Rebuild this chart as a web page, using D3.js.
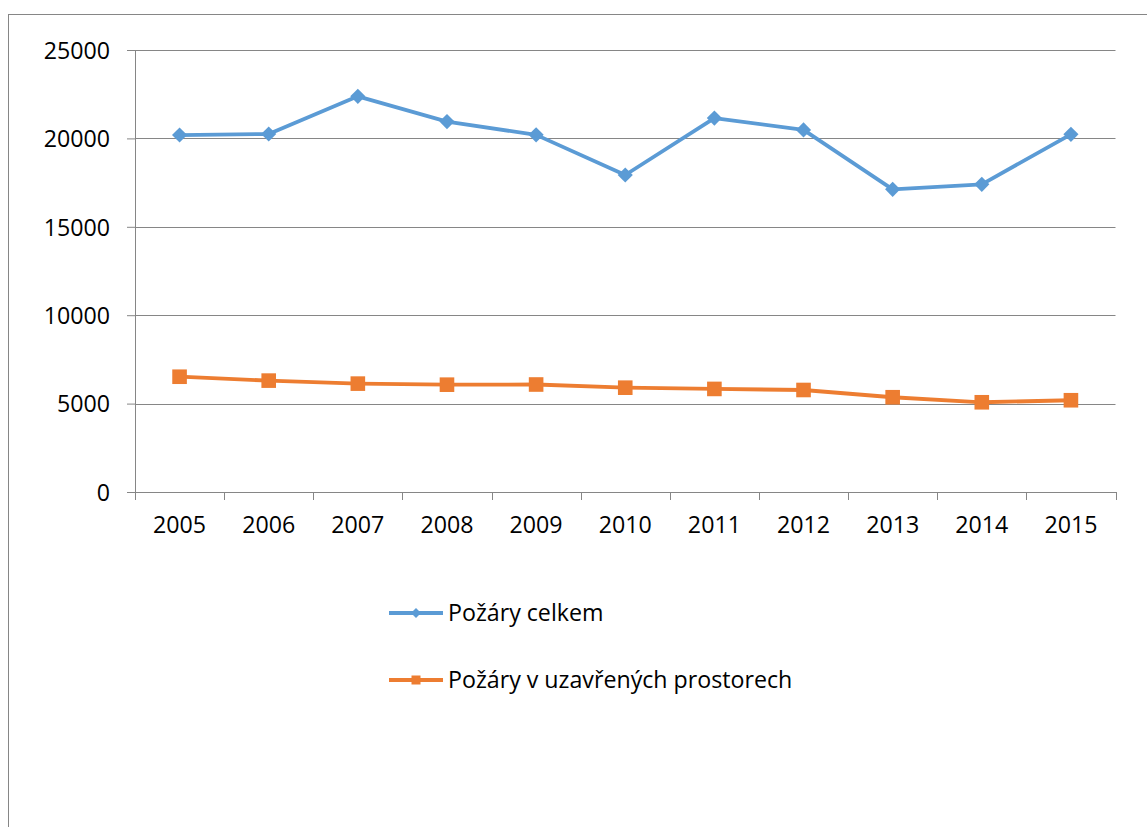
<!DOCTYPE html>
<html>
<head>
<meta charset="utf-8">
<script src="https://cdn.jsdelivr.net/npm/d3@7"></script>
<style>
  body { margin: 0; background: #fff; }
  text { font-family: "Open Sans", sans-serif; fill: #000; }
</style>
</head>
<body>
<svg width="1147" height="827"></svg>
<script>
// data
var years = ["2005", "2006", "2007", "2008", "2009", "2010", "2011", "2012", "2013", "2014", "2015"];
var celkem = [20190, 20250, 22380, 20950, 20200, 17930, 21150, 20480, 17120, 17400, 20230];
var uzavrene = [6520, 6300, 6130, 6070, 6080, 5900, 5830, 5770, 5360, 5075, 5190];
var yTicks = [0, 5000, 10000, 15000, 20000, 25000];
var seriesNames = ["Požáry celkem", "Požáry v uzavřených prostorech"];

var margin = {top: 50, right: 31.5, bottom: 335, left: 135};

var svg = d3.select("svg");
var width = +svg.attr("width") - margin.left - margin.right;
var height = +svg.attr("height") - margin.top - margin.bottom;

var fontSize = "23.2px";

// chart frame, runs off the right and bottom edges
svg.append("rect")
    .attr("x", 8.5).attr("y", 14.5)
    .attr("width", 1300).attr("height", 1000)
    .attr("fill", "none")
    .attr("stroke", "#868686");

var g = svg.append("g")
    .attr("transform", "translate(" + margin.left + "," + margin.top + ")");

var x = d3.scaleBand()
    .domain(years)
    .range([0, width]);

var y = d3.scaleLinear()
    .domain([0, 25000])
    .range([height, 0]);

// gridlines
g.append("g")
    .selectAll("line")
    .data(yTicks.filter(function(d) { return d > 0; }))
  .enter().append("line")
    .attr("x1", 0).attr("x2", width)
    .attr("y1", function(d) { return Math.round(y(d)) + 0.5; })
    .attr("y2", function(d) { return Math.round(y(d)) + 0.5; })
    .attr("stroke", "#868686");

// y axis
var yAxis = g.append("g")
    .call(d3.axisLeft(y).tickValues(yTicks).tickSize(8).tickPadding(17).tickFormat(d3.format("d")));
yAxis.select(".domain").attr("stroke", "#868686");
yAxis.selectAll(".tick line").attr("stroke", "#868686");
yAxis.selectAll("text").style("font-size", fontSize).attr("dy", "0.36em");

// x axis with ticks at the category edges
var xAxis = g.append("g")
    .attr("transform", "translate(0," + height + ")")
    .call(d3.axisBottom(x).tickSize(0).tickPadding(25));
xAxis.select(".domain").attr("stroke", "#868686");
xAxis.selectAll("text").style("font-size", fontSize);
xAxis.append("g")
    .selectAll("line")
    .data(d3.range(years.length + 1))
  .enter().append("line")
    .attr("x1", function(i) { return Math.round(i * x.step()) + 0.5; })
    .attr("x2", function(i) { return Math.round(i * x.step()) + 0.5; })
    .attr("y1", 0).attr("y2", 8)
    .attr("stroke", "#868686");

var cx = function(d, i) { return x(years[i]) + x.bandwidth() / 2; };

var line = d3.line()
    .x(cx)
    .y(function(d) { return y(d); });

var blue = "#5b9bd5", orange = "#ed7d31";

g.append("path").datum(celkem)
    .attr("d", line)
    .attr("fill", "none").attr("stroke", blue).attr("stroke-width", 3.8)
    .attr("stroke-linejoin", "round");

g.append("path").datum(uzavrene)
    .attr("d", line)
    .attr("fill", "none").attr("stroke", orange).attr("stroke-width", 3.8)
    .attr("stroke-linejoin", "round");

g.append("g").selectAll("path")
    .data(celkem)
  .enter().append("path")
    .attr("d", d3.symbol().type(d3.symbolSquare).size(115))
    .attr("transform", function(d, i) { return "translate(" + cx(d, i) + "," + y(d) + ") rotate(45)"; })
    .attr("fill", blue);

g.append("g").selectAll("rect")
    .data(uzavrene)
  .enter().append("rect")
    .attr("x", function(d, i) { return cx(d, i) - 7.3; })
    .attr("y", function(d) { return y(d) - 7.3; })
    .attr("width", 14.6).attr("height", 14.6)
    .attr("fill", orange);

// legend
var legend = svg.append("g");
var rows = [{name: seriesNames[0], color: blue, shape: "diamond", y: 613},
            {name: seriesNames[1], color: orange, shape: "square", y: 680}];

rows.forEach(function(r) {
  var lg = legend.append("g").attr("transform", "translate(389," + r.y + ")");
  lg.append("line")
      .attr("x1", 0).attr("x2", 54)
      .attr("stroke", r.color).attr("stroke-width", 3.8);
  if (r.shape === "diamond") {
    lg.append("path")
        .attr("d", d3.symbol().type(d3.symbolSquare).size(50))
        .attr("transform", "translate(27,0) rotate(45)")
        .attr("fill", r.color);
  } else {
    lg.append("rect")
        .attr("x", 22.5).attr("y", -4.5)
        .attr("width", 9).attr("height", 9)
        .attr("fill", r.color);
  }
  lg.append("text")
      .attr("x", 59).attr("dy", "0.36em")
      .style("font-size", fontSize)
      .text(r.name);
});
</script>
</body>
</html>
